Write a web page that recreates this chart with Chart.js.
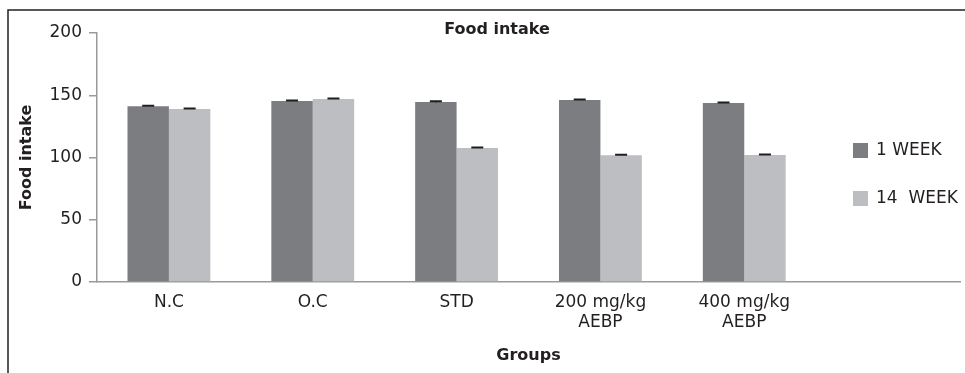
<!DOCTYPE html>
<html>
<head>
<meta charset="utf-8">
<script src="https://cdn.jsdelivr.net/npm/chart.js@4/dist/chart.umd.min.js"></script>
<style>
  html, body { margin: 0; padding: 0; background: #fff; }
  canvas { display: block; }
</style>
</head>
<body>
<canvas id="c" width="965" height="373"></canvas>
<script>
// Groups on the x axis (last slot left empty, the legend sits there)
const groups = ['N.C', 'O.C', 'STD', ['200 mg/kg', 'AEBP'], ['400 mg/kg', 'AEBP'], ''];
const seriesNames = ['1 WEEK', '14  WEEK'];
// Mean food intake per group
const week1 = [141.1, 145.4, 144.6, 146.2, 143.8];
const week14 = [139.0, 147.0, 107.6, 101.8, 102.0];
// Standard error per group
const week1Err = [0.4, 0.4, 0.5, 0.4, 0.4];
const week14Err = [0.4, 0.4, 0.4, 0.4, 0.4];
const yTicks = [0, 50, 100, 150, 200];

const FONT = 'DejaVu Sans';
const TEXT = '#231f20';
const DARK = '#7c7d81';
const LIGHT = '#bdbec1';
const AXIS = '#9a9a9a';

// Outer frame and chart title
const framePlugin = {
  id: 'frame',
  afterDraw(chart) {
    const ctx = chart.ctx;
    ctx.save();
    ctx.strokeStyle = '#222';
    ctx.lineWidth = 1.5;
    ctx.beginPath();
    ctx.moveTo(8, 373);
    ctx.lineTo(8, 10);
    ctx.lineTo(965, 10);
    ctx.stroke();
    ctx.fillStyle = TEXT;
    ctx.font = 'bold 16px "' + FONT + '"';
    ctx.textAlign = 'center';
    ctx.textBaseline = 'middle';
    ctx.fillText('Food intake', 497, 30);
    ctx.restore();
  }
};

// Error bar caps on each bar
const errorPlugin = {
  id: 'errors',
  afterDatasetsDraw(chart) {
    const ctx = chart.ctx;
    const y = chart.scales.y;
    const errs = [week1Err, week14Err];
    ctx.save();
    ctx.strokeStyle = '#1e1e1e';
    ctx.lineWidth = 2;
    chart.data.datasets.forEach((ds, di) => {
      const meta = chart.getDatasetMeta(di);
      meta.data.forEach((bar, i) => {
        const v = ds.data[i];
        if (v == null) return;
        const e = errs[di][i];
        const top = y.getPixelForValue(v + e);
        const bot = y.getPixelForValue(v - e);
        ctx.beginPath();
        ctx.moveTo(bar.x, top);
        ctx.lineTo(bar.x, bot);
        ctx.moveTo(bar.x - 6, top);
        ctx.lineTo(bar.x + 6, top);
        ctx.stroke();
      });
    });
    ctx.restore();
  }
};

// Legend drawn at the right inside the plot
const legendPlugin = {
  id: 'sideLegend',
  afterDraw(chart) {
    const ctx = chart.ctx;
    ctx.save();
    ctx.font = '17px "' + FONT + '"';
    ctx.textBaseline = 'middle';
    ctx.textAlign = 'left';
    chart.data.datasets.forEach((ds, i) => {
      const cy = 150.5 + i * 48;
      ctx.fillStyle = ds.backgroundColor;
      ctx.fillRect(853, cy - 7.5, 15, 15);
      ctx.fillStyle = TEXT;
      ctx.fillText(ds.label, 876, cy);
    });
    ctx.restore();
  }
};

new Chart(document.getElementById('c'), {
  type: 'bar',
  data: {
    labels: groups,
    datasets: [
      { label: seriesNames[0], data: week1, backgroundColor: DARK },
      { label: seriesNames[1], data: week14, backgroundColor: LIGHT }
    ]
  },
  options: {
    responsive: false,
    devicePixelRatio: 1,
    animation: false,
    categoryPercentage: 0.576,
    barPercentage: 1.0,
    layout: { padding: { left: 0, right: 5, top: 33, bottom: 0 } },
    plugins: {
      legend: { display: false },
      title: { display: false },
      tooltip: { enabled: false }
    },
    scales: {
      x: {
        grid: { display: false, drawTicks: false },
        border: { display: true, color: AXIS, width: 1.5 },
        ticks: {
          color: TEXT,
          font: { family: FONT, size: 17 },
          padding: 10,
          maxRotation: 0,
          autoSkip: false
        },
        title: {
          display: true,
          text: 'Groups',
          color: TEXT,
          font: { family: FONT, size: 16, weight: 'bold' },
          padding: { top: 0, bottom: 8 }
        },
        afterFit(scale) { scale.height = 91; }
      },
      y: {
        min: 0,
        max: 200,
        afterBuildTicks(scale) { scale.ticks = yTicks.map(v => ({ value: v })); },
        grid: { drawOnChartArea: false, drawTicks: true, tickLength: 8, color: AXIS, lineWidth: 1.5 },
        border: { display: true, color: AXIS, width: 1.5 },
        ticks: {
          color: TEXT,
          font: { family: FONT, size: 17 },
          padding: 7
        },
        title: {
          display: true,
          text: 'Food intake',
          color: TEXT,
          font: { family: FONT, size: 16, weight: 'bold' },
          padding: { top: 17, bottom: 0 }
        },
        afterFit(scale) { scale.width = 97; }
      }
    }
  },
  plugins: [framePlugin, errorPlugin, legendPlugin]
});
</script>
</body>
</html>
